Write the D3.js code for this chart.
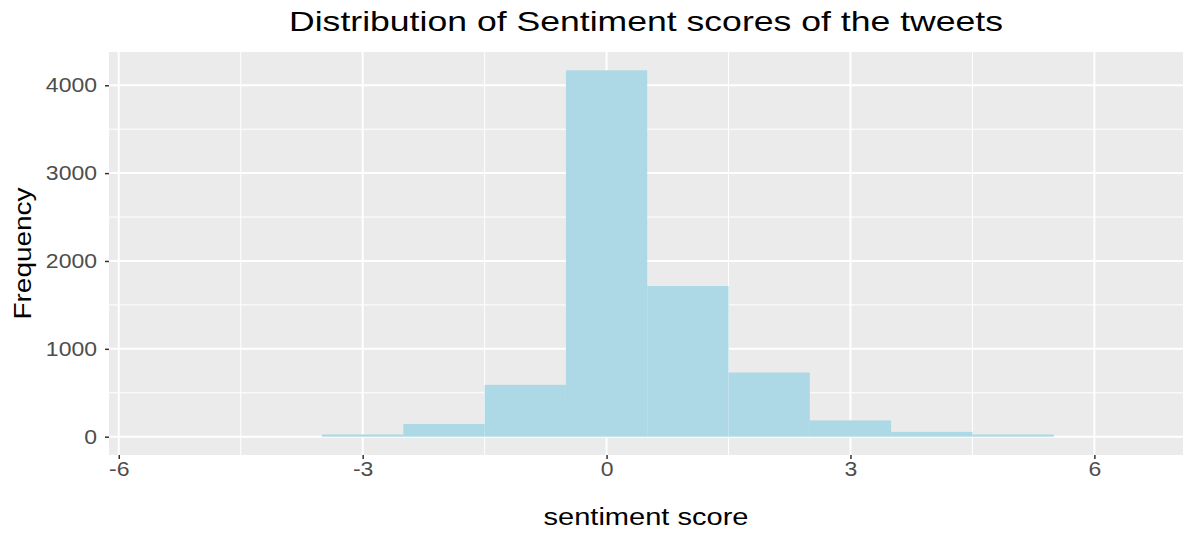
<!DOCTYPE html>
<html><head><meta charset="utf-8">
<script src="https://cdn.jsdelivr.net/npm/d3@7"></script>
<style>body{margin:0;background:#fff;} text{font-family:"Liberation Sans",Arial,sans-serif;}</style>
</head><body>
<svg id="c" width="1186" height="533"></svg>
<script>
// Data
const binCenters = [-3, -2, -1, 0, 1, 2, 3, 4, 5];
const frequencies = [25, 145, 590, 4170, 1715, 730, 185, 55, 25];
const binWidth = 1;
const xTicks = [-6, -3, 0, 3, 6];
const xMinor = [-4.5, -1.5, 1.5, 4.5];
const yTicks = [0, 1000, 2000, 3000, 4000];
const yMinor = [500, 1500, 2500, 3500];
const title = "Distribution of Sentiment scores of the tweets";
const xLabel = "sentiment score";
const yLabel = "Frequency";

const svg = d3.select("#c");
const P = {l: 109, r: 1183, t: 52, b: 455};
const x = d3.scaleLinear().domain([-6.12, 7.09]).range([P.l, P.r]);
const yMax = d3.max(frequencies);
const y = d3.scaleLinear().domain([-0.05*yMax, 1.05*yMax]).range([P.b, P.t]);
const SX = 1.15;
const fmt = d => String(d);

svg.append("rect").attr("x", P.l).attr("y", P.t).attr("width", P.r-P.l).attr("height", P.b-P.t).attr("fill", "#EBEBEB");
const g = svg.append("g");
g.selectAll(".xm").data(xMinor).join("line").attr("x1", d=>x(d)).attr("x2", d=>x(d)).attr("y1", P.t).attr("y2", P.b).attr("stroke", "#fff").attr("stroke-width", 1);
g.selectAll(".ym").data(yMinor).join("line").attr("y1", d=>y(d)).attr("y2", d=>y(d)).attr("x1", P.l).attr("x2", P.r).attr("stroke", "#fff").attr("stroke-width", 1);
g.selectAll(".xM").data(xTicks).join("line").attr("x1", d=>x(d)).attr("x2", d=>x(d)).attr("y1", P.t).attr("y2", P.b).attr("stroke", "#fff").attr("stroke-width", 2);
g.selectAll(".yM").data(yTicks).join("line").attr("y1", d=>y(d)).attr("y2", d=>y(d)).attr("x1", P.l).attr("x2", P.r).attr("stroke", "#fff").attr("stroke-width", 2);

svg.selectAll(".bar").data(binCenters).join("rect")
  .attr("x", d=>x(d-binWidth/2)).attr("width", d=>x(d+binWidth/2)-x(d-binWidth/2))
  .attr("y", (d,i)=>y(frequencies[i])).attr("height", (d,i)=>y(0)-y(frequencies[i]))
  .attr("fill", "#ADD8E6");

// axes
const xAxis = svg.append("g").attr("transform", `translate(0,${P.b})`)
  .call(d3.axisBottom(x).tickValues(xTicks).tickSize(4).tickPadding(3).tickFormat(fmt));
xAxis.select(".domain").remove();
xAxis.selectAll("line").attr("stroke", "#333").attr("stroke-width", 1.5);
xAxis.selectAll("text").attr("fill", "#4D4D4D").attr("font-size", 20).attr("font-family", "Liberation Sans, Arial")
  .attr("x", 0).attr("transform", `scale(${SX},1)`);
const yAxis = svg.append("g").attr("transform", `translate(${P.l - 4},0)`)
  .call(d3.axisLeft(y).tickValues(yTicks).tickSize(4).tickPadding(4).tickFormat(fmt));
yAxis.select(".domain").remove();
yAxis.selectAll("line").attr("stroke", "#333").attr("stroke-width", 1.5).attr("x2", 4);
yAxis.selectAll("text").attr("fill", "#4D4D4D").attr("font-size", 20).attr("font-family", "Liberation Sans, Arial")
  .attr("x", -8/SX).attr("transform", `scale(${SX},1)`);

svg.append("text").attr("x", (P.l+P.r)/2).attr("y", 31).attr("text-anchor", "middle")
  .attr("font-size", 28).attr("fill", "#000").attr("textLength", 714).attr("lengthAdjust", "spacingAndGlyphs").text(title);
svg.append("text").attr("x", (P.l+P.r)/2).attr("y", 525).attr("text-anchor", "middle")
  .attr("font-size", 23).attr("fill", "#000").attr("textLength", 205).attr("lengthAdjust", "spacingAndGlyphs").text(xLabel);
svg.append("text").attr("transform", `translate(31,${(P.t+P.b)/2}) rotate(-90)`).attr("text-anchor", "middle")
  .attr("font-size", 23).attr("fill", "#000").attr("textLength", 132).attr("lengthAdjust", "spacingAndGlyphs").text(yLabel);
</script>
</body></html>
